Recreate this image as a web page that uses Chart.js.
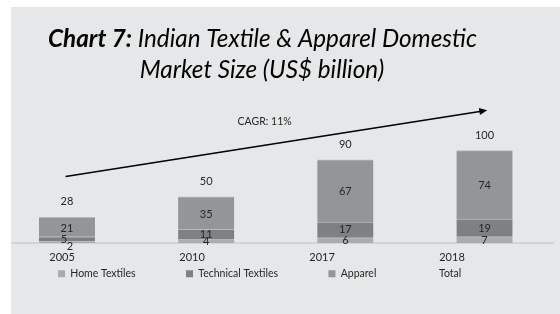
<!DOCTYPE html>
<html>
<head>
<meta charset="utf-8">
<script src="https://cdn.jsdelivr.net/npm/chart.js@4.4.1/dist/chart.umd.min.js"></script>
<style>
  html, body { margin: 0; padding: 0; background: #fff; }
  #wrap { position: absolute; left: 11px; top: 7px; width: 549px; height: 307px; background: #e6e7e8; }
</style>
</head>
<body>
<div id="wrap"><canvas id="myChart"></canvas></div>
<script>
// datos
const years = ["2005", "2010", "2017", "2018"];
const homeTextiles = [2, 4, 6, 7];
const technicalTextiles = [5, 11, 17, 19];
const apparel = [21, 35, 67, 74];
const total = [28, 50, 90, 100];
const cagrText = "CAGR: 11%";

const FONT = "Lato";
const pad = (n) => " ".repeat(n);
const legendPads = [pad(18), pad(18), pad(18), pad(17)];

const toXY = (arr) => arr.map((v, i) => ({ x: i, y: v }));

// titulo con partes en negrita
const titlePlugin = {
  id: "titulo",
  afterDraw(chart) {
    const ctx = chart.ctx;
    ctx.save();
    ctx.fillStyle = "#000";
    ctx.textBaseline = "alphabetic";
    const a = "Chart 7:", b = " Indian Textile & Apparel Domestic", c = "Market Size (US$ billion)";
    ctx.font = `italic bold 24px ${FONT}`;
    const wa = ctx.measureText(a).width;
    ctx.font = `italic 24px ${FONT}`;
    const wb = ctx.measureText(b).width;
    const s = 24 * 429 / (wa + wb);
    ctx.font = `italic bold ${s}px ${FONT}`;
    const wa2 = ctx.measureText(a).width;
    ctx.font = `italic ${s}px ${FONT}`;
    const wb2 = ctx.measureText(b).width;
    const x0 = 251.5 - (wa2 + wb2) / 2;
    ctx.textAlign = "left";
    ctx.font = `italic bold ${s}px ${FONT}`;
    ctx.fillText(a, x0, 40);
    ctx.font = `italic ${s}px ${FONT}`;
    ctx.fillText(b, x0 + wa2, 40);
    ctx.textAlign = "center";
    ctx.fillText(c, 251, 71);
    ctx.restore();
  },
};

// flecha CAGR
const arrowPlugin = {
  id: "flecha",
  afterDatasetsDraw(chart) {
    const xs = chart.scales.xb, ys = chart.scales.y, ctx = chart.ctx;
    const x1 = xs.getPixelForValue(-0.01), y1 = ys.getPixelForValue(72);
    const x2 = xs.getPixelForValue(3.02), y2 = ys.getPixelForValue(143.5);
    const ang = Math.atan2(y2 - y1, x2 - x1);
    ctx.save();
    ctx.strokeStyle = "#000";
    ctx.fillStyle = "#000";
    ctx.lineWidth = 1.5;
    ctx.beginPath();
    ctx.moveTo(x1, y1);
    ctx.lineTo(x2 - 6 * Math.cos(ang), y2 - 6 * Math.sin(ang));
    ctx.stroke();
    ctx.beginPath();
    ctx.moveTo(x2, y2);
    ctx.lineTo(x2 - 8 * Math.cos(ang) + 3.5 * Math.sin(ang), y2 - 8 * Math.sin(ang) - 3.5 * Math.cos(ang));
    ctx.lineTo(x2 - 8 * Math.cos(ang) - 3.5 * Math.sin(ang), y2 - 8 * Math.sin(ang) + 3.5 * Math.cos(ang));
    ctx.closePath();
    ctx.fill();
    ctx.font = `10.5px ${FONT}`;
    ctx.fillStyle = "#262626";
    ctx.textAlign = "center";
    ctx.textBaseline = "middle";
    ctx.fillText(cagrText, xs.getPixelForValue(1.42), ys.getPixelForValue(130.7));
    ctx.restore();
  },
};

// etiquetas de valores
const labelPlugin = {
  id: "etiquetas",
  afterDatasetsDraw(chart) {
    const ctx = chart.ctx;
    ctx.save();
    ctx.font = `11px ${FONT}`;
    ctx.fillStyle = "#262626";
    ctx.textAlign = "center";
    ctx.textBaseline = "middle";
    const home = chart.getDatasetMeta(0).data;
    const tech = chart.getDatasetMeta(1).data;
    const app = chart.getDatasetMeta(2).data;
    const tot = chart.getDatasetMeta(3).data;
    years.forEach((_, i) => {
      const hy = (home[i].y + home[i].base) / 2;
      const ty = (tech[i].y + tech[i].base) / 2;
      const ay = (app[i].y + app[i].base) / 2;
      const close = hy - ty < 6;
      const dx = close ? 3 : 0;
      ctx.fillText(String(apparel[i]), app[i].x, ay + 1);
      ctx.fillText(String(technicalTextiles[i]), tech[i].x - dx, ty);
      ctx.fillText(String(homeTextiles[i]), home[i].x + dx, Math.max(hy, ty + 7));
      ctx.fillText(String(total[i]), tot[i].x, tot[i].y - 15.5);
    });
    ctx.restore();
  },
};

const barBase = {
  xAxisID: "xb",
  barThickness: 56,
  borderWidth: { top: 1, left: 0, right: 0, bottom: 0 },
  borderColor: "#b9babc",
  borderSkipped: false,
};

const ctx = document.getElementById("myChart").getContext("2d");
new Chart(ctx, {
  type: "bar",
  data: {
    datasets: [
      { ...barBase, label: "Home Textiles", data: toXY(homeTextiles), backgroundColor: "#aaabad" },
      { ...barBase, label: "Technical Textiles", data: toXY(technicalTextiles), backgroundColor: "#7f8083" },
      { ...barBase, label: "Apparel", data: toXY(apparel), backgroundColor: "#949598" },
      {
        type: "line", label: "Total", xAxisID: "xb", stack: "total", data: toXY(total),
        showLine: false, pointRadius: 0, borderColor: "rgba(0,0,0,0)", backgroundColor: "rgba(0,0,0,0)", borderWidth: 0,
      },
    ],
  },
  options: {
    responsive: true,
    maintainAspectRatio: false,
    animation: false,
    layout: { padding: { top: 125, left: 1, right: 7, bottom: 25 } },
    plugins: {
      tooltip: { enabled: false },
      legend: {
        display: true,
        position: "bottom",
        align: "center",
        labels: {
          boxWidth: 7,
          boxHeight: 7,
          padding: 2,
          color: "#262626",
          font: { family: FONT, size: 10.5 },
          generateLabels(chart) {
            const items = Chart.defaults.plugins.legend.labels.generateLabels(chart);
            items.forEach((it, i) => { it.text = it.text + legendPads[i]; it.lineWidth = 0; });
            return items;
          },
        },
      },
    },
    scales: {
      x: {
        type: "linear",
        position: "bottom",
        offset: false,
        min: -0.385,
        max: 3.777,
        grid: { display: false, drawTicks: false, offset: false },
        border: { display: true, color: "#d3d4d6", width: 2 },
        afterFit: (scale) => { scale.height -= 5; },
        ticks: {
          stepSize: 1,
          includeBounds: false,
          autoSkip: false,
          maxRotation: 0,
          padding: 7.5,
          color: "#262626",
          font: { family: FONT, size: 11 },
          callback: (v) => (years[v] !== undefined ? years[v] : ""),
        },
      },
      xb: { type: "linear", display: false, offset: false, grid: { offset: false }, stacked: true, min: -0.395, max: 3.492 },
      y: { display: false, stacked: true, min: 0, max: 120 },
    },
  },
  plugins: [titlePlugin, arrowPlugin, labelPlugin],
});
</script>
</body>
</html>
